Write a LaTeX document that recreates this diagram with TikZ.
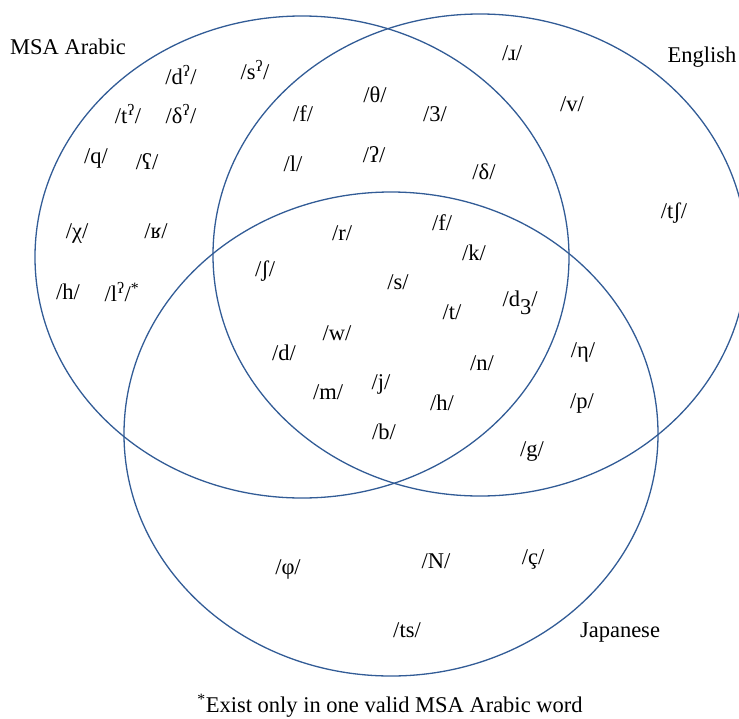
\documentclass[tikz,border=0pt]{standalone}
\usepackage{fontspec}
\setmainfont{Liberation Serif}
\definecolor{vennblue}{RGB}{50,92,150}

\begin{document}
\begin{tikzpicture}[x=1pt,y=-1pt,
        vennline/.style={draw=vennblue, line width=1.3pt},
        font=\fontsize{22.5}{27}\selectfont]
        \def\msaset{(302,257) ellipse [x radius=267pt, y radius=241pt]}
        \def\engset{(480,255) ellipse [x radius=267pt, y radius=241pt]}
        \def\japset{(391,434) ellipse [x radius=267pt, y radius=242pt]}
        \def\ph{\textsuperscript{ʔ}}
        \useasboundingbox (0,0) rectangle (739,718);
        \clip (0,0) rectangle (739,718);
        \draw[vennline] \msaset;
        \draw[vennline] \engset;
        \draw[vennline] \japset;
        % set names
        \node (msa) at (68,47) {MSA Arabic};
        \node (eng) at (702,57) {English};
        \node (jap) at (620,633) {Japanese};
        % MSA Arabic only
        \node (a-d) at (181,75) {/d\ph/};
        \node (a-s) at (255,70) {/s\ph/};
        \node (a-t) at (128,114) {/t\ph/};
        \node (a-dh) at (181,114) {/δ\ph/};
        \node (a-q) at (96,158) {/q/};
        \node (a-ain) at (147,162) {/ʕ/};
        \node (a-chi) at (77,233) {/χ/};
        \node (a-gh) at (156,231) {/ʁ/};
        \node (a-h) at (68,292) {/h/};
        \node (a-l) at (122,292) {/l\ph/\textsuperscript{*}};
        % MSA Arabic and English
        \node (ae-f) at (303,114) {/f/};
        \node (ae-th) at (375,95) {/θ/};
        \node (ae-zh) at (435,114) {/3/};
        \node (ae-l) at (293,164) {/l/};
        \node (ae-q) at (374,155) {/ʔ/};
        \node (ae-dh) at (484,172) {/δ/};
        % English only
        \node (e-r) at (512,53) {/ɹ/};
        \node (e-v) at (572,104) {/v/};
        \node (e-ch) at (674,213) {/tʃ/};
        % all three
        \node (x-r) at (342,233) {/r/};
        \node (x-f) at (442,223) {/f/};
        \node (x-k) at (474,253) {/k/};
        \node (x-sh) at (265,271) {/ʃ/};
        \node (x-s) at (398,282) {/s/};
        \node (x-t) at (452,312) {/t/};
        \node (x-dz) at (520,303) {/d\raisebox{-0.8ex}{3}/};
        \node (x-w) at (337,333) {/w/};
        \node (x-d) at (284,353) {/d/};
        \node (x-n) at (482,363) {/n/};
        \node (x-m) at (328,392) {/m/};
        \node (x-j) at (381,384) {/j/};
        \node (x-h) at (442,403) {/h/};
        \node (x-b) at (384,432) {/b/};
        % English and Japanese
        \node (ej-ng) at (583,352) {/η/};
        \node (ej-p) at (582,403) {/p/};
        \node (ej-g) at (532,452) {/g/};
        % Japanese only
        \node (j-ph) at (288,569) {/φ/};
        \node (j-n) at (436,561) {/N/};
        \node (j-c) at (533,559) {/ç/};
        \node (j-ts) at (407,630) {/ts/};
        % footnote
        \node (note) at (390,706) {\textsuperscript{*}Exist only in one valid MSA Arabic word};
\end{tikzpicture}
\end{document}
